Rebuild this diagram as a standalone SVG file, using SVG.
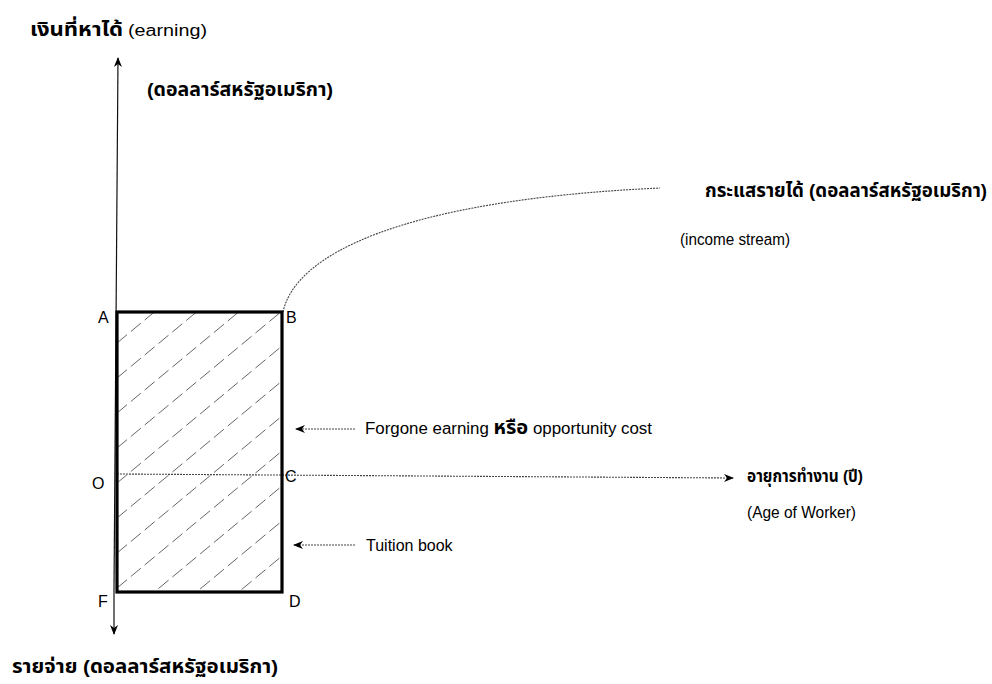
<svg xmlns="http://www.w3.org/2000/svg" width="992" height="684" viewBox="0 0 992 684">
<style>
text{font-family:"Liberation Sans","Noto Sans Thai","Noto Sans",sans-serif;font-size:16px;fill:#000}
.th{font-weight:bold;font-size:19px}
.axis{stroke:#111;stroke-width:1.2;fill:none}
.dot{stroke:#444;stroke-width:1.1;fill:none;stroke-dasharray:2 1}
.hatch{stroke:#666;stroke-width:1;stroke-dasharray:13 5}
.box{stroke:#000;stroke-width:3.2;fill:none}
</style>
<defs>
<marker id="ah" viewBox="0 0 10 10" refX="9" refY="5" markerWidth="10" markerHeight="10" markerUnits="userSpaceOnUse" orient="auto">
<path d="M0,1 L10,5 L0,9 L3,5 Z" fill="#000"/>
</marker>
<clipPath id="clip"><rect x="117" y="312" width="165" height="280"/></clipPath>
</defs>
<g id="connectors">
<line class="axis" x1="114" y1="590" x2="118" y2="58" marker-end="url(#ah)"/>
<line class="axis" x1="114" y1="590" x2="114" y2="634" marker-end="url(#ah)"/>
<line class="dot" x1="117" y1="474" x2="733" y2="478" marker-end="url(#ah)"/>
<path class="dot" d="M283,312 C295,255 400,200 660,188"/>
<line class="dot" x1="355" y1="429" x2="296" y2="429" marker-end="url(#ah)"/>
<line class="dot" x1="355" y1="545" x2="294" y2="545" marker-end="url(#ah)"/>
</g>
<g id="hatching" clip-path="url(#clip)">
<line class="hatch" x1="117" y1="343" x2="282" y2="206"/>
<line class="hatch" x1="117" y1="378" x2="282" y2="241"/>
<line class="hatch" x1="117" y1="413" x2="282" y2="276"/>
<line class="hatch" x1="117" y1="448" x2="282" y2="311"/>
<line class="hatch" x1="117" y1="483" x2="282" y2="346"/>
<line class="hatch" x1="117" y1="518" x2="282" y2="381"/>
<line class="hatch" x1="117" y1="553" x2="282" y2="416"/>
<line class="hatch" x1="117" y1="588" x2="282" y2="451"/>
<line class="hatch" x1="117" y1="623" x2="282" y2="486"/>
<line class="hatch" x1="117" y1="658" x2="282" y2="521"/>
<line class="hatch" x1="117" y1="693" x2="282" y2="556"/>
<line class="hatch" x1="117" y1="728" x2="282" y2="591"/>
</g>
<g id="box">
<rect class="box" x="117" y="312" width="165" height="280"/>
</g>
<g id="labels">
<text x="98" y="323">A</text>
<text x="286" y="323">B</text>
<text x="92" y="489" font-size="17">O</text>
<text x="285" y="482" font-size="17">C</text>
<text x="98" y="607">F</text>
<text x="289" y="607">D</text>
</g>
<g id="y-label">
<text x="30" y="36" class="th" textLength="93" lengthAdjust="spacingAndGlyphs">เงินที่หาได้</text>
<text x="128" y="36" font-size="19" textLength="79" lengthAdjust="spacingAndGlyphs">(earning)</text>
<text x="147" y="96" class="th" textLength="186" lengthAdjust="spacingAndGlyphs">(ดอลลาร์สหรัฐอเมริกา)</text>
</g>
<g id="income-label">
<text x="705" y="197" class="th" textLength="282" lengthAdjust="spacingAndGlyphs">กระแสรายได้ (ดอลลาร์สหรัฐอเมริกา)</text>
<text x="680" y="245" textLength="110" lengthAdjust="spacingAndGlyphs">(income stream)</text>
</g>
<g id="forgone-label">
<text x="365" y="434" textLength="287" lengthAdjust="spacingAndGlyphs">Forgone earning <tspan class="th">หรือ</tspan> opportunity cost</text>
</g>
<g id="tuition-label">
<text x="366" y="551">Tuition book</text>
</g>
<g id="x-label">
<text x="747" y="482" class="th" font-size="17" style="font-size:17px" textLength="116" lengthAdjust="spacingAndGlyphs">อายุการทำงาน (ปี)</text>
<text x="747" y="518" textLength="109" lengthAdjust="spacingAndGlyphs">(Age of Worker)</text>
</g>
<g id="expense-label">
<text x="12" y="673" class="th" textLength="266" lengthAdjust="spacingAndGlyphs">รายจ่าย (ดอลลาร์สหรัฐอเมริกา)</text>
</g>
</svg>
